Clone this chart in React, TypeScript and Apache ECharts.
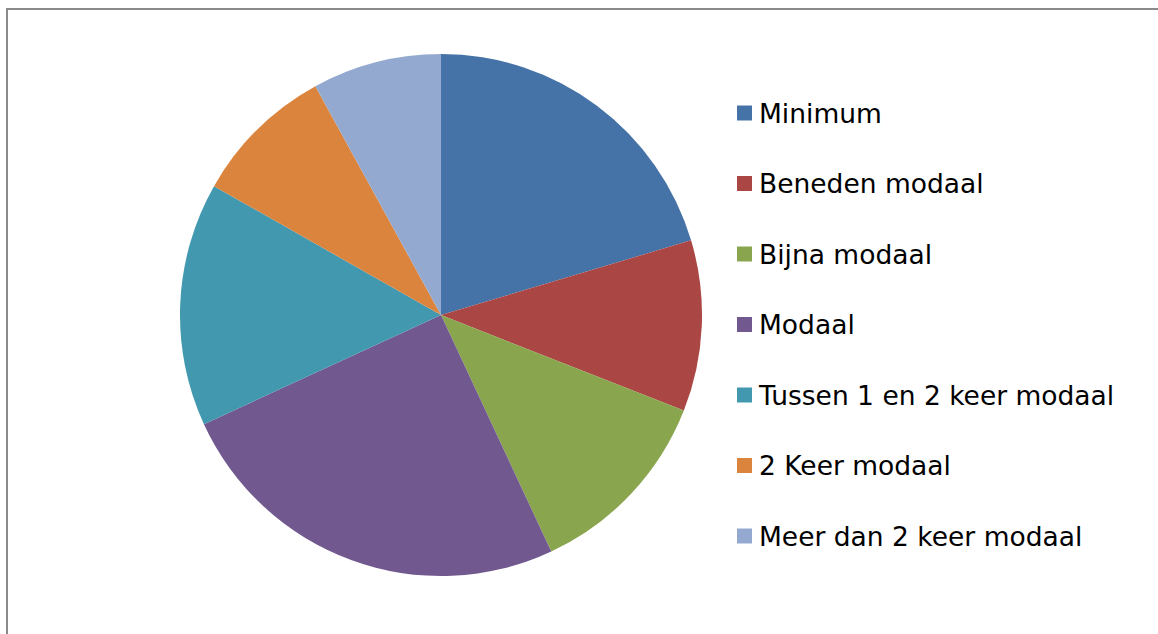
import React, { useEffect, useRef } from "react";
import * as echarts from "echarts";

const categories = [
  "Minimum",
  "Beneden modaal",
  "Bijna modaal",
  "Modaal",
  "Tussen 1 en 2 keer modaal",
  "2 Keer modaal",
  "Meer dan 2 keer modaal",
];
const values = [20.4, 10.6, 12.1, 25.1, 15.1, 8.8, 8.0];
const colors = ["#4572A7", "#AA4643", "#89A54E", "#71588F", "#4198AF", "#DB843D", "#93A9CF"];

export default function App() {
  const ref = useRef<HTMLDivElement>(null);
  useEffect(() => {
    if (!ref.current) return;
    const chart = echarts.init(ref.current, undefined, { renderer: "svg" });
    chart.setOption({
      animation: false,
      backgroundColor: "#ffffff",
      color: colors,
      graphic: [
        {
          type: "rect",
          shape: { x: 7, y: 9, width: 1300, height: 800 },
          style: { fill: "none", stroke: "#8a8a8a", lineWidth: 2 },
          silent: true,
        },
      ],
      legend: {
        orient: "vertical",
        left: 737,
        top: 99.5,
        padding: 0,
        itemWidth: 15,
        itemHeight: 15,
        itemGap: 43.5,
        icon: "rect",
        textStyle: {
          fontFamily: "DejaVu Sans",
          fontSize: 26.5,
          lineHeight: 27,
          color: "#000000",
          padding: [0, 0, 0, 2],
        },
        data: categories,
      },
      series: [
        {
          type: "pie",
          center: [441, 315],
          radius: [0, 261],
          startAngle: 90,
          clockwise: true,
          label: { show: false },
          labelLine: { show: false },
          emphasis: { disabled: true },
          itemStyle: { borderWidth: 0 },
          data: categories.map((name, i) => ({ name, value: values[i] })),
        },
      ],
    });
    return () => chart.dispose();
  }, []);
  return (
    <div
      ref={ref}
      style={{ position: "fixed", left: 0, top: 0, width: 1158, height: 634 }}
    />
  );
}
